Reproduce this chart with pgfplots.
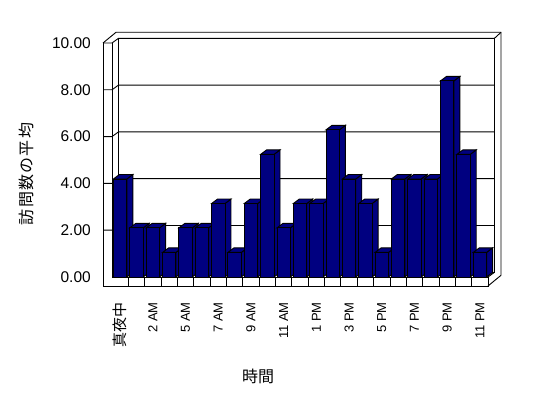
\documentclass[border=0pt]{standalone}
\usepackage{fontspec}
\setmainfont{Liberation Sans}
\newfontfamily\jp{Noto Sans CJK JP}
\usepackage{pgfplots}
\pgfplotsset{compat=1.18}
\definecolor{barnavy}{RGB}{0,0,128}

% 3D column drawn at the data point (x, value); \val is the value
\pgfdeclareplotmark{bar3d}{%
  \pgfmathsetmacro\H{\val*23.4}%
  \pgfmathsetmacro\Hb{4.5-\H}%
  % side face
  \pgfpathmoveto{\pgfqpoint{6.7pt}{0pt}}%
  \pgfpathlineto{\pgfqpoint{12.7pt}{4.5pt}}%
  \pgfpathlineto{\pgfqpoint{12.7pt}{\Hb pt}}%
  \pgfpathlineto{\pgfqpoint{6.7pt}{-\H pt}}%
  \pgfpathclose
  \pgfusepathqfillstroke
  % top face
  \pgfpathmoveto{\pgfqpoint{-6.7pt}{0pt}}%
  \pgfpathlineto{\pgfqpoint{-0.7pt}{4.5pt}}%
  \pgfpathlineto{\pgfqpoint{12.7pt}{4.5pt}}%
  \pgfpathlineto{\pgfqpoint{6.7pt}{0pt}}%
  \pgfpathclose
  \pgfusepathqfillstroke
  % front face
  \pgfpathrectangle{\pgfqpoint{-6.7pt}{-\H pt}}{\pgfqpoint{13.4pt}{\H pt}}%
  \pgfusepathqfillstroke
}

\pgfplotstableread{
x y
0.5 4.19
1.5 2.10
2.5 2.10
3.5 1.05
4.5 2.10
5.5 2.10
6.5 3.14
7.5 1.05
8.5 3.14
9.5 5.24
10.5 2.10
11.5 3.14
12.5 3.14
13.5 6.29
14.5 4.19
15.5 3.14
16.5 1.05
17.5 4.19
18.5 4.19
19.5 4.19
20.5 8.38
21.5 5.24
22.5 1.05
}\visits

\begin{document}
\begin{tikzpicture}
\fill[white] (-112pt,-121pt) rectangle (436pt,277pt);
% ---- walls and floor (oblique 3D frame) ----
\begin{scope}[x=1pt,y=1pt,line width=0.9pt,black]
  \draw (6.5,4.7) rectangle (382.5,238.7);
  \foreach \v in {2,4,6,8,10}{
    \pgfmathsetmacro\yf{23.4*\v}
    \pgfmathsetmacro\yb{23.4*\v+4.7}
    \draw (-9,\yf) -- (0,\yf) -- (6.5,\yb) -- (382.5,\yb);
  }
  \draw (-9,-9) -- (-9,234);
  \draw (0,0) -- (0,234);
  \draw (-9,234) -- (4,244.7) -- (389,244.7) -- (389,1.7) -- (376,-9);
  \draw (382.5,238.7) -- (389,244.7);
  \draw (376,0) -- (382.5,4.7);
  \draw (0,0) -- (376,0) -- (376,-9) -- (-9,-9);
  \foreach \k in {1,...,22}{
    \draw (16.35*\k,-9) -- (16.35*\k,0);
  }
\end{scope}
\begin{axis}[
  at={(0pt,0pt)}, anchor=south west,
  x=16.35pt, y=23.4pt,
  xmin=0, xmax=23, ymin=0, ymax=10,
  enlargelimits=false, clip=false,
  axis line style={draw=none},
  major tick length=0pt,
  xtick pos=bottom, ytick pos=left,
  xtick={0.5,2.5,4.5,6.5,8.5,10.5,12.5,14.5,16.5,18.5,20.5,22.5},
  xticklabels={{\jp\fontsize{15}{15}\selectfont 真夜中},2 AM,5 AM,7 AM,9 AM,11 AM,1 PM,3 PM,5 PM,7 PM,9 PM,11 PM},
  xticklabel style={yshift=-25pt, rotate=90, anchor=east, inner sep=0pt, font=\fontsize{13}{13}\selectfont},
  ytick={0,2,4,6,8,10},
  xlabel={時間},
  ylabel={訪問数の平均},
  xlabel style={font=\jp\fontsize{16}{16}\selectfont, at={(axis description cs:0.3883,-0.4231)}, anchor=center},
  ylabel style={font=\jp\fontsize{16}{16}\selectfont\addfontfeature{LetterSpace=8}, at={(axis description cs:-0.2287,0.4402)}, anchor=center},
  yticklabel style={xshift=-21pt, anchor=east, inner sep=0pt, font=\fontsize{15.5}{15.5}\selectfont,
    /pgf/number format/.cd, fixed, fixed zerofill, precision=2, assume math mode=true},
]
\addplot[scatter, only marks, mark=bar3d,
  mark options={fill=barnavy, draw=black, line width=0.9pt},
  scatter/@pre marker code/.code={},
  scatter/@post marker code/.code={},
  visualization depends on={rawy \as \val}] table[x=x, y=y] {\visits};
\end{axis}
\pgfresetboundingbox
\path[use as bounding box] (-112pt,-121pt) rectangle (436pt,277pt);
\end{tikzpicture}
\end{document}
